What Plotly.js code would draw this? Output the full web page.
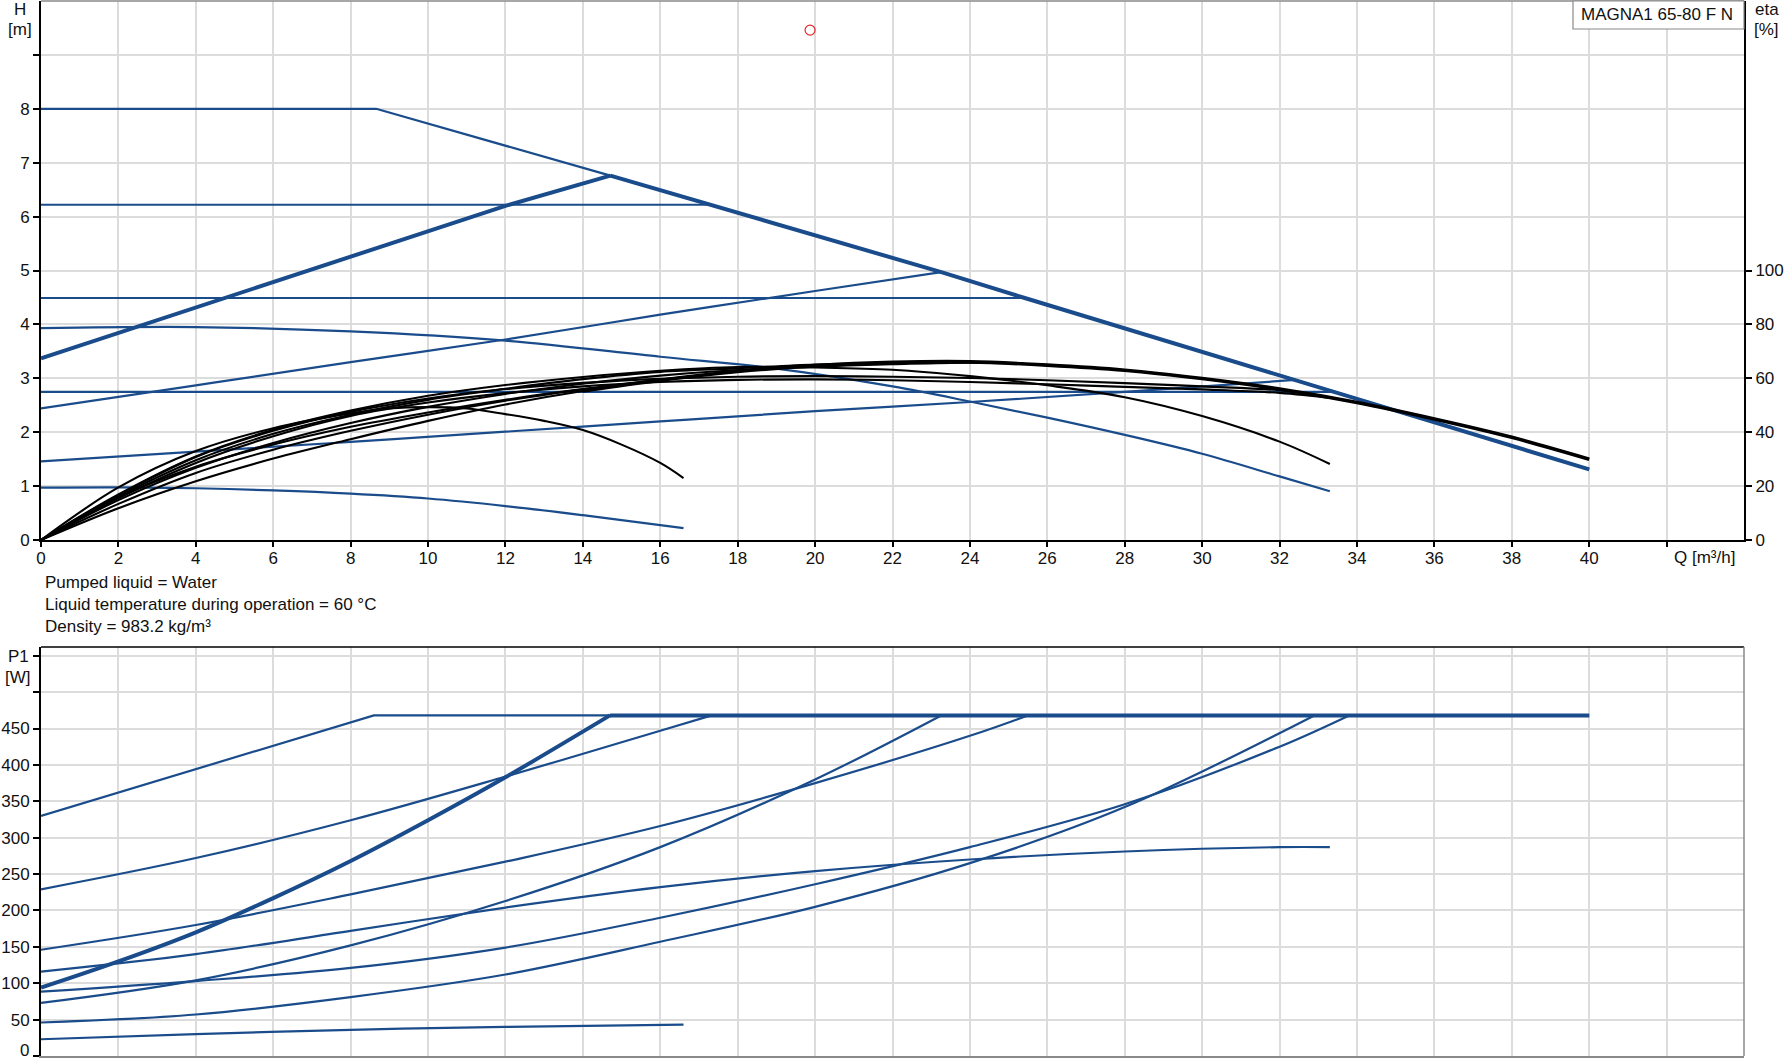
<!DOCTYPE html>
<html>
<head>
<meta charset="utf-8">
<script src="https://cdn.plot.ly/plotly-3.0.1.min.js"></script>
<style>
html,body{margin:0;padding:0;background:#fff;}
#chart{width:1784px;height:1061px;}
</style>
</head>
<body>
<div id="chart"></div>
<script>
// ---------------- tick labels ----------------
const X_TICKS = [0,2,4,6,8,10,12,14,16,18,20,22,24,26,28,30,32,34,36,38,40,42];
const X_TICK_LABELS = ['0','2','4','6','8','10','12','14','16','18','20','22','24','26','28','30','32','34','36','38','40',''];
const H_TICKS = [0,1,2,3,4,5,6,7,8,9];
const H_TICK_LABELS = ['0','1','2','3','4','5','6','7','8',''];
const ETA_TICKS = [0,20,40,60,80,100];
const P_TICKS = [0,50,100,150,200,250,300,350,400,450,500,550];
const P_TICK_LABELS = ['','50','100','150','200','250','300','350','400','450','',''];
const P_ZERO_LABEL = '0';

// ---------------- head curves H [m] vs Q [m3/h] ----------------
const Q_MAX = [0, 8.66, 14.71, 17.33, 23.26, 25.46, 32.4, 33.4, 36, 38, 40];
const H_MAX = [8.0, 8.0, 6.76, 6.21, 4.97, 4.48, 2.97, 2.75, 2.19, 1.74, 1.31];
const Q_PP_HI = [0, 4, 8, 12, 14.71];
const H_PP_HI = [3.37, 4.31, 5.25, 6.20, 6.76];
const Q_CP_HI = [0, 17.33];
const H_CP_HI = [6.22, 6.22];
const Q_CP_MID = [0, 25.46];
const H_CP_MID = [4.49, 4.49];
const Q_PP_MID = [0, 4, 8, 12, 16, 20, 23.26];
const H_PP_MID = [2.44, 2.87, 3.30, 3.72, 4.18, 4.62, 4.97];
const Q_CP_LO = [0, 33.4];
const H_CP_LO = [2.75, 2.75];
const Q_PP_LO = [0, 4, 8, 12, 16, 20, 24, 28, 32.4];
const H_PP_LO = [1.46, 1.64, 1.82, 2.01, 2.20, 2.39, 2.56, 2.75, 2.97];
const Q_SPD_MID = [0, 4, 8, 12, 16, 19, 22, 24, 26, 28, 30, 32, 33.3];
const H_SPD_MID = [3.93, 3.95, 3.87, 3.70, 3.40, 3.18, 2.85, 2.57, 2.27, 1.95, 1.60, 1.18, 0.905];
const Q_SPD_MIN = [0, 2, 4, 6, 8, 10, 12, 14, 16.6];
const H_SPD_MIN = [0.97, 0.975, 0.96, 0.92, 0.86, 0.77, 0.63, 0.46, 0.22];

// ---------------- efficiency curves eta [%] ----------------
const QE_MAX = [0,2,4,6,8,10,12,14,16,18,20,22,24,26,28,30,32,34,36,38,40];
const ETA_MAX = [0,11.8,21.8,30.2,37.4,44.2,50.3,55.3,59.3,62.5,64.7,65.9,66.1,64.9,63.0,59.9,56.0,51.0,44.9,38.1,30.0];
const QE_PP_HI = [0,2,4,6,8,10,12,14,14.71];
const ETA_PP_HI = [0,15.8,27.2,35.4,42.0,47.3,52.0,56.0,56.9];
const QE_CP_HI = [0,2,4,6,8,10,12,14,16,17.33];
const ETA_CP_HI = [0,13.4,24.9,33.5,40.5,46.5,51.7,55.9,59.5,61.5];
const QE_CP_MID = [0,2,4,6,8,10,12,14,16,18,20,22,24,25.46];
const ETA_CP_MID = [0,14.8,26.8,36.0,43.4,49.4,54.2,58.0,61.0,63.1,64.3,65.2,65.8,65.3];
const QE_PP_MID = [0,2,4,6,8,10,12,14,16,18,20,22,23.26];
const ETA_PP_MID = [0,16.1,29.6,39.4,46.5,52.0,56.1,59.7,62.4,63.7,65.1,65.7,66.1];
const QE_CP_LO = [0,2,4,6,8,10,12,14,16,18,20,22,24,26,28,30,32,33.4];
const ETA_CP_LO = [0,15.5,28.6,38.5,46.0,51.0,54.5,57.0,58.6,59.4,59.6,59.3,58.6,57.8,56.8,55.9,54.6,52.6];
const QE_PP_LO = [0,2,4,6,8,10,12,14,16,18,20,22,24,26,28,30,32,32.9];
const ETA_PP_LO = [0,16.6,30.8,40.5,47.5,52.5,56.0,58.3,59.8,60.6,60.8,60.6,60.1,59.3,58.2,57.0,55.6,53.9];
const QE_SPD_MID = [0,2,4,6,8,10,12,14,16,18,20,22,24,26,28,30,32,33.3];
const ETA_SPD_MID = [0,16.9,31.0,40.9,48.0,53.5,57.5,60.5,62.8,64.2,64.0,63.2,60.8,57.4,53.0,46.0,36.5,28.2];
const QE_SPD_MIN = [0,2,4,6,8,9,10,11,12,13,14,15,16,16.6];
const ETA_SPD_MIN = [0,19.5,33.0,41.5,47.0,48.8,49.3,48.8,46.7,44.2,40.8,35.4,28.6,23.0];

// ---------------- power curves P1 [W] ----------------
const QP_MAX = [0, 8.6, 40];
const P_MAX = [330, 468, 468];
const QP_PP_HI = [0, 2, 4, 6, 8, 10, 12, 14.7];
const P_PP_HI = [94, 130, 170, 217, 268, 324, 383, 468];
const QP_CP_HI = [0, 4, 8, 12, 16, 17.33];
const P_CP_HI = [229, 272, 324, 384, 447, 468];
const QP_CP_MID = [0, 4, 8, 12, 16, 20, 24, 25.5];
const P_CP_MID = [146, 180, 222, 267, 316, 375, 440, 468];
const QP_PP_MID = [0, 4, 8, 12, 16, 20, 23.26];
const P_PP_MID = [73, 104, 152, 213, 287, 380, 468];
const QP_CP_LO = [0, 4, 8, 12, 16, 20, 24, 28, 32, 33.8];
const P_CP_LO = [88.5, 103, 121, 149, 190, 236, 287, 346, 425, 468];
const QP_PP_LO = [0, 4, 8, 12, 16, 20, 24, 28, 32.9];
const P_PP_LO = [46, 57, 81, 112, 157, 205, 265, 342, 468];
const QP_SPD_MID = [0, 4, 8, 12, 16, 20, 24, 28, 32, 33.3];
const P_SPD_MID = [116, 140, 172, 204, 232, 254, 270, 281, 287, 287];
const QP_SPD_MIN = [0, 4, 8, 12, 16.6];
const P_SPD_MIN = [23, 30, 36, 40, 43];

// duty point
const DUTY_Q = [19.87];
const DUTY_H = [9.46];

// ---------------- drawing ----------------
const BLUE = '#1a4c8b';
const BLACK = '#000000';
const GRID = '#dcdcdc';
const FONT = 'Liberation Sans, Arial, sans-serif';

// geometry in pixels -> paper
const PL = 41, PR = 1744, PT = 1, PB = 1056;
const px = p => (p - PL) / (PR - PL);
const py = p => (PB - p) / (PB - PT);

function tail(qs, vs, from) {
  const q = [], v = [];
  qs.forEach((x, i) => { if (x >= from) { q.push(x); v.push(vs[i]); } });
  return [q, v];
}
function line(x, y, color, width, xa, ya, shape) {
  return {x: x, y: y, type: 'scatter', mode: 'lines', xaxis: xa, yaxis: ya,
          line: {color: color, width: width, shape: shape || 'linear'}, hoverinfo: 'skip', showlegend: false};
}

const traces = [];
// head curves
traces.push(line(Q_MAX, H_MAX, BLUE, 2.2, 'x', 'y'));
traces.push(line(Q_CP_HI, H_CP_HI, BLUE, 2.2, 'x', 'y'));
traces.push(line(Q_CP_MID, H_CP_MID, BLUE, 2.2, 'x', 'y'));
traces.push(line(Q_CP_LO, H_CP_LO, BLUE, 2.2, 'x', 'y'));
traces.push(line(Q_PP_MID, H_PP_MID, BLUE, 2.2, 'x', 'y', 'spline'));
traces.push(line(Q_PP_LO, H_PP_LO, BLUE, 2.2, 'x', 'y', 'spline'));
traces.push(line(Q_SPD_MID, H_SPD_MID, BLUE, 2.2, 'x', 'y', 'spline'));
traces.push(line(Q_SPD_MIN, H_SPD_MIN, BLUE, 2.2, 'x', 'y', 'spline'));
traces.push(line(Q_PP_HI, H_PP_HI, BLUE, 4, 'x', 'y'));
const hTail = tail(Q_MAX, H_MAX, Q_PP_HI[Q_PP_HI.length - 1]);
traces.push(line(hTail[0], hTail[1], BLUE, 4, 'x', 'y'));

// efficiency curves (right axis)
traces.push(line(QE_MAX, ETA_MAX, BLACK, 2.1, 'x', 'y2', 'spline'));
traces.push(line(QE_PP_HI, ETA_PP_HI, BLACK, 2.1, 'x', 'y2', 'spline'));
traces.push(line(QE_CP_HI, ETA_CP_HI, BLACK, 2.1, 'x', 'y2', 'spline'));
traces.push(line(QE_CP_MID, ETA_CP_MID, BLACK, 2.1, 'x', 'y2', 'spline'));
traces.push(line(QE_PP_MID, ETA_PP_MID, BLACK, 2.1, 'x', 'y2', 'spline'));
traces.push(line(QE_CP_LO, ETA_CP_LO, BLACK, 2.1, 'x', 'y2', 'spline'));
traces.push(line(QE_PP_LO, ETA_PP_LO, BLACK, 2.1, 'x', 'y2', 'spline'));
traces.push(line(QE_SPD_MID, ETA_SPD_MID, BLACK, 2.1, 'x', 'y2', 'spline'));
traces.push(line(QE_SPD_MIN, ETA_SPD_MIN, BLACK, 2.1, 'x', 'y2', 'spline'));
const eTail = tail(QE_MAX, ETA_MAX, 14);
traces.push(line(eTail[0], eTail[1], BLACK, 3.6, 'x', 'y2', 'spline'));

// duty point
traces.push({x: DUTY_Q, y: DUTY_H, type: 'scatter', mode: 'markers', xaxis: 'x', yaxis: 'y',
  marker: {symbol: 'circle-open', size: 10, color: '#e8262b', line: {width: 1.2, color: '#e8262b'}},
  hoverinfo: 'skip', showlegend: false});

// power curves
traces.push(line(QP_MAX, P_MAX, BLUE, 2.2, 'x2', 'y3'));
traces.push(line(QP_CP_HI, P_CP_HI, BLUE, 2.2, 'x2', 'y3', 'spline'));
traces.push(line(QP_CP_MID, P_CP_MID, BLUE, 2.2, 'x2', 'y3', 'spline'));
traces.push(line(QP_PP_MID, P_PP_MID, BLUE, 2.2, 'x2', 'y3', 'spline'));
traces.push(line(QP_CP_LO, P_CP_LO, BLUE, 2.2, 'x2', 'y3', 'spline'));
traces.push(line(QP_PP_LO, P_PP_LO, BLUE, 2.2, 'x2', 'y3', 'spline'));
traces.push(line(QP_SPD_MID, P_SPD_MID, BLUE, 2.2, 'x2', 'y3', 'spline'));
traces.push(line(QP_SPD_MIN, P_SPD_MIN, BLUE, 2.2, 'x2', 'y3', 'spline'));
traces.push(line(QP_PP_HI, P_PP_HI, BLUE, 4, 'x2', 'y3', 'spline'));
const pT = tail(QP_MAX, P_MAX, 14.8);
const pTail = [[QP_PP_HI[QP_PP_HI.length - 1]].concat(pT[0]), [P_PP_HI[P_PP_HI.length - 1]].concat(pT[1])];
traces.push(line(pTail[0], pTail[1], BLUE, 4, 'x2', 'y3'));

const tickFont = {family: FONT, size: 17, color: '#111'};
const xCommon = {range: [0, 44], tickvals: X_TICKS, showgrid: true, gridcolor: GRID, gridwidth: 1.5,
  zeroline: false, fixedrange: true};

const layout = {
  width: 1784, height: 1061,
  margin: {l: PL, r: 1784 - PR, t: PT, b: 1061 - PB, autoexpand: false},
  paper_bgcolor: '#fff', plot_bgcolor: '#fff',
  font: {family: FONT, size: 17, color: '#111'},
  showlegend: false,
  hovermode: false,
  dragmode: false,
  xaxis: Object.assign({}, xCommon, {domain: [0, 1], anchor: 'y', ticktext: X_TICK_LABELS,
    showline: true, linecolor: '#000', linewidth: 2, ticks: 'outside', ticklen: 5, tickcolor: '#000',
    tickwidth: 1.5, tickfont: tickFont, ticklabelstandoff: -3, ticklabeloverflow: 'allow'}),
  yaxis: {domain: [py(540), 1], anchor: 'x', range: [0, 10], tickvals: H_TICKS, ticktext: H_TICK_LABELS,
    showgrid: true, gridcolor: GRID, gridwidth: 1.5, zeroline: false, showline: true, linecolor: '#000',
    linewidth: 2, ticks: 'outside', ticklen: 6, tickcolor: '#000', tickwidth: 1.5, tickfont: tickFont,
    fixedrange: true, ticklabeloverflow: 'allow'},
  yaxis2: {overlaying: 'y', side: 'right', anchor: 'x', range: [0, 200], tickvals: ETA_TICKS,
    showgrid: false, zeroline: false, showline: true, linecolor: '#000', linewidth: 2,
    ticks: 'outside', ticklen: 6, tickcolor: '#000', tickwidth: 1.5, tickfont: tickFont,
    fixedrange: true, ticklabeloverflow: 'allow'},
  xaxis2: Object.assign({}, xCommon, {domain: [0, 1], anchor: 'y3', showticklabels: false,
    showline: true, linecolor: '#8a8a8a', linewidth: 1.5, ticks: ''}),
  yaxis3: {domain: [0, py(647)], anchor: 'x2', range: [0, 562], tickvals: P_TICKS, ticktext: P_TICK_LABELS,
    showgrid: true, gridcolor: GRID, gridwidth: 1.5, zeroline: false, showline: true, linecolor: '#000',
    linewidth: 2, ticks: 'outside', ticklen: 6, tickcolor: '#000', tickwidth: 1.5, tickfont: tickFont,
    fixedrange: true, ticklabeloverflow: 'allow'},
  shapes: [
    {type: 'line', xref: 'paper', yref: 'paper', x0: 0, x1: 1, y0: py(1), y1: py(1), line: {color: '#8a8a8a', width: 1.5}},
    {type: 'line', xref: 'paper', yref: 'paper', x0: 0, x1: 1, y0: py(647), y1: py(647), line: {color: '#000', width: 1.5}},
    {type: 'line', xref: 'paper', yref: 'paper', x0: 1, x1: 1, y0: 0, y1: py(647), line: {color: '#8a8a8a', width: 1.5}},
    {type: 'rect', xref: 'paper', yref: 'paper', x0: px(1573), x1: px(1744), y0: py(29), y1: py(1),
      line: {color: '#8a8a8a', width: 1.2}, fillcolor: '#fff'}
  ],
  annotations: [
    {text: 'H', x: px(20), y: py(10)},
    {text: '[m]', x: px(20), y: py(30)},
    {text: 'eta', x: px(1767), y: py(10)},
    {text: '[%]', x: px(1767), y: py(30)},
    {text: 'P1', x: px(18), y: py(656)},
    {text: '[W]', x: px(18), y: py(677)},
    {text: P_ZERO_LABEL, x: px(31), y: py(1050), xanchor: 'right'},
    {text: 'Q [m³/h]', x: px(1704), y: py(557)},
    {text: 'MAGNA1 65-80 F N', x: px(1579), y: py(14), xanchor: 'left'},
    {text: 'Pumped liquid = Water', x: px(43), y: py(583), xanchor: 'left'},
    {text: 'Liquid temperature during operation = 60 °C', x: px(43), y: py(604), xanchor: 'left'},
    {text: 'Density = 983.2 kg/m³', x: px(43), y: py(626), xanchor: 'left'}
  ].map(a => Object.assign({xref: 'paper', yref: 'paper', showarrow: false, xanchor: 'center', yanchor: 'middle',
    font: {family: FONT, size: 17, color: '#111'}}, a))
};

Plotly.newPlot('chart', traces, layout, {displayModeBar: false, responsive: false});
</script>
</body>
</html>
